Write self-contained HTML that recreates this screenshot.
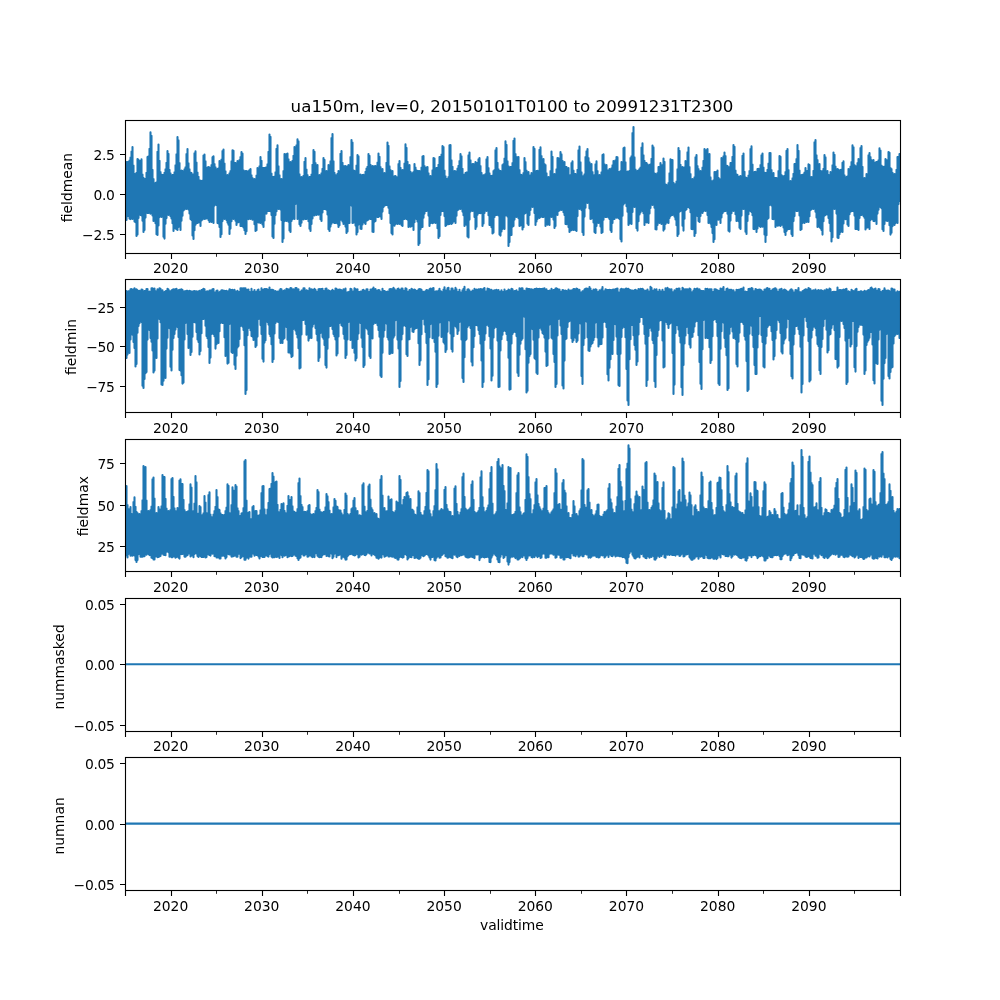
<!DOCTYPE html>
<html lang="en"><head><meta charset="utf-8"><title>ua150m, lev=0</title>
<style>html,body{margin:0;padding:0;background:#fff;overflow:hidden}svg{display:block;will-change:transform}text{font-family:"DejaVu Sans","Liberation Sans",sans-serif;fill:#000}</style></head>
<body>
<svg width="1000" height="1000" viewBox="0 0 1000 1000">
<rect width="1000" height="1000" fill="#fff"/>
<defs>
<clipPath id="c0"><rect x="125" y="120.00" width="775" height="132.76"/></clipPath>
<clipPath id="c1"><rect x="125" y="279.31" width="775" height="132.76"/></clipPath>
<clipPath id="c2"><rect x="125" y="438.62" width="775" height="132.76"/></clipPath>
<clipPath id="c3"><rect x="125" y="597.93" width="775" height="132.76"/></clipPath>
<clipPath id="c4"><rect x="125" y="757.24" width="775" height="132.76"/></clipPath>
</defs>
<g id="axes1">
<path clip-path="url(#c0)" d="M125.5 163.3V219.7M126.5 162.0V220.0M127.5 162.3V216.1M128.5 161.8V216.0M129.5 160.6V218.6M130.5 157.6V219.1M131.5 151.5V218.2M132.5 147.0V219.0M133.5 165.6V218.1M134.5 173.8V221.5M135.5 175.0V222.3M136.5 172.8V236.0M137.5 159.0V234.5M138.5 159.8V218.0M139.5 163.0V212.2M140.5 160.8V215.0M141.5 159.4V215.5M142.5 174.6V220.7M143.5 177.9V232.0M144.5 179.0V229.9M145.5 178.8V217.6M146.5 172.7V212.6M147.5 157.0V213.0M148.5 156.4V213.0M149.5 148.9V212.8M150.5 132.4V213.7M151.5 135.8V210.1M152.5 169.9V215.5M153.5 179.0V221.0M154.5 183.9V220.7M155.5 183.0V223.2M156.5 182.2V234.2M157.5 151.8V235.0M158.5 144.6V225.5M159.5 160.7V217.1M160.5 172.1V214.8M161.5 174.5V217.0M162.5 175.0V214.1M163.5 174.8V236.8M164.5 172.8V238.6M165.5 169.4V223.7M166.5 162.8V218.1M167.5 151.0V214.0M168.5 153.9V215.0M169.5 169.9V214.3M170.5 173.4V216.3M171.5 175.7V218.4M172.5 175.0V223.2M173.5 174.9V231.0M174.5 172.4V225.9M175.5 165.2V228.4M176.5 154.2V229.3M177.5 137.0V229.9M178.5 140.4V227.0M179.5 163.0V225.0M180.5 171.7V230.0M181.5 170.6V220.8M182.5 171.0V215.7M183.5 174.1V210.4M184.5 169.4V209.5M185.5 167.3V207.1M186.5 154.0V209.0M187.5 149.0V206.2M188.5 163.2V209.5M189.5 169.2V213.4M190.5 172.5V219.0M191.5 173.0V220.0M192.5 174.9V235.4M193.5 174.4V239.0M194.5 153.3V230.2M195.5 151.4V224.8M196.5 162.6V223.2M197.5 172.5V223.0M198.5 176.7V222.5M199.5 180.3V222.2M200.5 180.9V226.0M201.5 181.0V220.4M202.5 180.6V219.5M203.5 155.6V217.8M204.5 154.6V219.0M205.5 161.2V218.8M206.5 169.2V218.4M207.5 167.6V217.7M208.5 167.0V220.0M209.5 167.5V222.0M210.5 168.6V217.0M211.5 165.0V221.9M212.5 157.4V220.3M213.5 156.4V223.0M214.5 164.0V205.6M215.5 167.2V203.0M216.5 170.7V204.9M217.5 169.0V223.0M218.5 168.4V223.4M219.5 161.0V227.0M220.5 165.7V237.0M221.5 159.6V234.2M222.5 151.0V221.1M223.5 149.6V217.1M224.5 163.6V219.0M225.5 171.3V217.8M226.5 177.6V220.0M227.5 175.0V222.6M228.5 176.1V224.7M229.5 173.4V234.0M230.5 171.0V228.6M231.5 161.4V221.2M232.5 150.4V218.2M233.5 150.8V219.0M234.5 162.8V218.1M235.5 163.0V220.7M236.5 165.6V225.0M237.5 161.0V222.5M238.5 164.1V222.2M239.5 160.0V220.6M240.5 157.0V226.0M241.5 152.0V226.0M242.5 153.5V226.1M243.5 170.3V227.4M244.5 171.2V230.2M245.5 171.0V234.0M246.5 171.0V231.2M247.5 173.1V218.2M248.5 171.0V219.3M249.5 170.0V217.2M250.5 169.0V219.0M251.5 175.3V217.2M252.5 178.0V219.7M253.5 181.6V219.5M254.5 179.0V224.2M255.5 179.7V231.0M256.5 175.6V230.2M257.5 168.0V220.3M258.5 171.4V222.5M259.5 166.4V222.4M260.5 157.0V223.0M261.5 160.7V222.2M262.5 167.7V224.4M263.5 168.0V227.0M264.5 168.0V220.5M265.5 167.8V213.6M266.5 167.4V213.6M267.5 164.2V210.9M268.5 151.9V211.0M269.5 134.6V211.0M270.5 136.9V211.3M271.5 173.5V215.0M272.5 176.8V236.4M273.5 177.0V238.0M274.5 176.6V223.7M275.5 172.3V215.1M276.5 148.9V211.3M277.5 145.4V208.5M278.5 166.3V209.0M279.5 175.3V208.6M280.5 179.1V209.4M281.5 179.0V219.9M282.5 180.9V242.0M283.5 171.1V238.4M284.5 154.0V221.3M285.5 154.5V218.3M286.5 154.2V221.0M287.5 153.6V220.2M288.5 159.2V221.8M289.5 162.6V230.4M290.5 162.0V232.0M291.5 162.5V221.0M292.5 160.9V219.1M293.5 155.7V218.4M294.5 147.0V219.0M295.5 147.4V203.9M296.5 145.3V201.0M297.5 139.4V219.0M298.5 141.2V214.4M299.5 174.4V224.2M300.5 179.2V226.0M301.5 177.0V222.8M302.5 179.1V217.3M303.5 175.9V219.4M304.5 161.7V218.4M305.5 158.0V219.0M306.5 169.6V219.0M307.5 175.1V218.2M308.5 179.4V221.3M309.5 177.0V228.8M310.5 176.9V231.0M311.5 174.5V224.0M312.5 164.8V218.5M313.5 150.0V215.3M314.5 151.7V215.4M315.5 163.1V210.8M316.5 165.2V215.0M317.5 165.0V212.8M318.5 176.3V214.7M319.5 175.0V212.8M320.5 175.3V219.3M321.5 173.2V221.0M322.5 168.9V212.4M323.5 158.0V208.9M324.5 159.9V209.0M325.5 172.5V209.1M326.5 171.0V209.8M327.5 173.6V214.5M328.5 165.0V229.3M329.5 165.6V231.0M330.5 161.2V226.6M331.5 138.1V223.8M332.5 134.0V219.0M333.5 161.2V222.5M334.5 172.9V223.0M335.5 175.0V222.9M336.5 177.9V222.8M337.5 173.9V223.6M338.5 171.0V227.0M339.5 173.3V225.3M340.5 153.7V219.8M341.5 151.0V219.8M342.5 162.8V221.5M343.5 166.1V224.0M344.5 166.6V223.5M345.5 166.0V226.6M346.5 167.0V233.0M347.5 166.4V231.4M348.5 165.0V223.0M349.5 166.0V223.0M350.5 157.1V203.0M351.5 140.0V205.6M352.5 142.6V223.0M353.5 170.2V222.7M354.5 171.0V222.0M355.5 171.0V225.6M356.5 165.6V234.4M357.5 155.0V232.1M358.5 156.4V224.6M359.5 174.7V222.5M360.5 174.6V228.8M361.5 178.0V229.0M362.5 175.0V224.4M363.5 174.9V219.8M364.5 175.4V222.8M365.5 171.9V224.0M366.5 168.5V220.8M367.5 166.8V220.3M368.5 154.0V219.5M369.5 155.9V217.6M370.5 164.9V219.0M371.5 169.2V219.1M372.5 166.0V231.7M373.5 166.8V232.0M374.5 166.4V221.7M375.5 166.0V220.9M376.5 167.0V216.8M377.5 162.5V217.0M378.5 153.6V217.0M379.5 156.8V216.0M380.5 167.1V216.4M381.5 169.4V219.0M382.5 169.0V211.6M383.5 173.6V207.0M384.5 173.0V205.7M385.5 177.7V205.1M386.5 162.7V205.0M387.5 142.6V205.2M388.5 145.9V207.7M389.5 166.4V213.3M390.5 170.1V223.0M391.5 171.3V232.9M392.5 171.0V234.4M393.5 177.2V224.8M394.5 176.3V225.8M395.5 176.0V224.0M396.5 177.0V222.5M397.5 177.4V224.0M398.5 164.1V222.9M399.5 161.0V224.0M400.5 167.8V221.1M401.5 172.0V225.1M402.5 170.0V226.0M403.5 170.1V219.2M404.5 163.5V219.0M405.5 144.4V199.0M406.5 147.9V219.0M407.5 161.7V219.6M408.5 169.4V227.0M409.5 165.0V226.3M410.5 171.8V226.8M411.5 175.9V226.2M412.5 173.0V225.3M413.5 172.1V230.0M414.5 164.0V222.2M415.5 167.6V215.7M416.5 170.4V219.0M417.5 171.2V221.4M418.5 171.0V245.0M419.5 171.0V243.3M420.5 171.8V229.2M421.5 167.6V227.2M422.5 156.6V227.0M423.5 156.0V217.7M424.5 166.0V213.6M425.5 167.7V211.0M426.5 167.5V211.0M427.5 167.0V210.4M428.5 173.3V215.6M429.5 176.3V226.0M430.5 176.0V223.2M431.5 180.6V219.7M432.5 170.4V223.2M433.5 158.0V222.7M434.5 158.5V218.1M435.5 169.2V223.0M436.5 168.0V222.5M437.5 167.8V228.2M438.5 164.8V238.0M439.5 157.0V236.2M440.5 156.9V214.9M441.5 154.6V211.2M442.5 146.0V211.0M443.5 147.0V211.1M444.5 170.6V216.1M445.5 176.3V226.0M446.5 178.8V225.1M447.5 179.0V223.6M448.5 177.1V224.2M449.5 145.3V223.9M450.5 145.0V219.0M451.5 160.4V224.0M452.5 166.7V222.9M453.5 171.4V221.4M454.5 171.0V221.0M455.5 171.4V223.0M456.5 172.7V215.7M457.5 168.5V210.3M458.5 165.8V209.5M459.5 161.1V208.5M460.5 154.0V209.0M461.5 156.3V208.0M462.5 168.7V211.6M463.5 174.6V215.2M464.5 174.7V226.0M465.5 173.0V224.4M466.5 172.5V224.7M467.5 172.4V236.4M468.5 155.4V237.4M469.5 152.6V219.6M470.5 160.2V211.6M471.5 165.0V209.8M472.5 164.0V211.0M473.5 164.1V210.7M474.5 164.8V216.9M475.5 162.0V229.0M476.5 166.4V226.7M477.5 162.8V214.7M478.5 159.3V212.9M479.5 158.0V213.0M480.5 166.0V213.3M481.5 172.9V212.6M482.5 175.2V226.0M483.5 175.4V223.5M484.5 175.0V212.9M485.5 174.0V207.5M486.5 159.3V211.0M487.5 157.0V206.8M488.5 168.1V215.2M489.5 173.4V225.0M490.5 175.9V225.1M491.5 176.0V227.2M492.5 175.5V233.4M493.5 171.0V232.6M494.5 170.0V216.9M495.5 150.4V214.9M496.5 148.0V215.0M497.5 162.7V214.7M498.5 169.2V215.5M499.5 170.8V234.6M500.5 171.0V235.6M501.5 171.2V231.5M502.5 165.0V228.9M503.5 164.0V228.2M504.5 158.5V229.0M505.5 141.4V215.5M506.5 144.9V213.0M507.5 161.3V216.5M508.5 166.3V246.0M509.5 168.4V242.1M510.5 167.0V235.3M511.5 166.8V235.0M512.5 163.0V226.7M513.5 140.7V226.0M514.5 138.6V219.6M515.5 154.0V216.6M516.5 157.0V217.0M517.5 157.7V216.1M518.5 157.0V218.3M519.5 170.0V226.0M520.5 174.6V225.5M521.5 175.0V223.5M522.5 175.8V229.4M523.5 173.0V227.3M524.5 158.0V213.8M525.5 162.0V213.0M526.5 170.6V212.1M527.5 172.3V223.6M528.5 172.0V225.0M529.5 176.0V215.1M530.5 175.2V209.9M531.5 173.0V202.7M532.5 173.6V207.0M533.5 147.0V203.0M534.5 148.9V213.0M535.5 173.8V225.0M536.5 171.0V221.5M537.5 170.9V219.0M538.5 171.4V216.5M539.5 149.7V218.0M540.5 147.4V217.0M541.5 156.0V216.4M542.5 160.5V217.0M543.5 159.0V216.9M544.5 164.1V215.7M545.5 165.0V226.0M546.5 173.2V220.5M547.5 177.3V224.8M548.5 177.0V223.3M549.5 177.2V225.0M550.5 171.0V215.8M551.5 151.6V217.0M552.5 156.7V216.5M553.5 177.1V219.6M554.5 174.0V228.0M555.5 174.4V226.0M556.5 169.2V213.6M557.5 158.0V215.0M558.5 158.2V211.0M559.5 160.6V210.4M560.5 152.0V208.4M561.5 154.4V210.0M562.5 160.7V208.5M563.5 162.7V212.3M564.5 162.0V215.0M565.5 166.7V224.0M566.5 167.0V224.2M567.5 168.7V223.8M568.5 168.0V227.1M569.5 175.5V232.0M570.5 175.0V230.4M571.5 163.0V230.3M572.5 161.4V226.3M573.5 170.6V230.0M574.5 173.9V229.6M575.5 174.0V229.9M576.5 174.5V231.0M577.5 169.8V216.1M578.5 150.3V207.8M579.5 146.6V209.0M580.5 162.3V204.7M581.5 172.3V210.1M582.5 176.6V232.2M583.5 176.0V235.0M584.5 174.4V216.6M585.5 157.0V207.7M586.5 151.2V201.8M587.5 149.0V203.0M588.5 158.1V198.9M589.5 162.3V208.4M590.5 164.7V219.0M591.5 164.0V218.6M592.5 172.0V216.4M593.5 176.0V222.4M594.5 175.0V232.0M595.5 164.3V233.0M596.5 161.4V226.0M597.5 171.1V222.4M598.5 175.2V223.0M599.5 175.0V222.8M600.5 175.8V226.4M601.5 172.3V233.0M602.5 155.1V232.3M603.5 154.4V219.8M604.5 164.4V216.7M605.5 167.7V217.0M606.5 165.0V217.0M607.5 170.2V216.5M608.5 170.3V217.5M609.5 169.0V218.9M610.5 169.4V230.1M611.5 168.3V232.0M612.5 165.3V223.0M613.5 161.0V219.1M614.5 161.4V219.0M615.5 160.2V217.0M616.5 157.0V217.8M617.5 157.4V217.4M618.5 171.8V218.0M619.5 172.0V219.0M620.5 171.0V239.1M621.5 162.0V241.4M622.5 162.5V215.7M623.5 148.3V204.5M624.5 147.6V203.0M625.5 162.3V202.6M626.5 173.0V206.3M627.5 171.5V211.8M628.5 172.0V225.0M629.5 170.9V223.4M630.5 158.0V223.1M631.5 156.2V224.0M632.5 133.0V212.0M633.5 127.0V206.3M634.5 157.4V207.0M635.5 169.5V206.4M636.5 171.0V228.3M637.5 171.2V230.6M638.5 170.4V221.2M639.5 169.0V214.5M640.5 167.6V212.5M641.5 147.6V210.5M642.5 143.4V211.0M643.5 155.2V213.2M644.5 160.9V225.0M645.5 162.9V218.9M646.5 163.0V222.4M647.5 164.4V221.7M648.5 166.6V223.0M649.5 165.0V213.4M650.5 164.2V207.9M651.5 158.7V203.1M652.5 145.6V205.0M653.5 147.4V204.3M654.5 173.2V207.8M655.5 174.0V229.2M656.5 174.2V229.4M657.5 173.0V224.9M658.5 167.0V222.1M659.5 166.9V223.0M660.5 163.0V221.7M661.5 165.3V224.0M662.5 165.1V222.2M663.5 158.6V230.6M664.5 161.9V228.9M665.5 184.2V224.0M666.5 185.0V222.5M667.5 187.2V222.4M668.5 183.1V223.0M669.5 173.3V217.9M670.5 159.4V215.9M671.5 160.0V215.1M672.5 160.0V215.0M673.5 182.8V210.3M674.5 185.0V216.6M675.5 184.1V219.5M676.5 181.5V225.2M677.5 169.2V236.0M678.5 148.0V233.9M679.5 150.9V211.7M680.5 164.8V211.0M681.5 167.3V209.2M682.5 167.0V225.7M683.5 168.3V230.6M684.5 167.3V218.7M685.5 161.0V210.2M686.5 163.7V209.2M687.5 152.2V207.0M688.5 147.6V207.0M689.5 167.0V208.0M690.5 174.1V212.2M691.5 179.2V229.0M692.5 179.0V229.3M693.5 179.5V228.6M694.5 177.3V236.0M695.5 157.3V233.2M696.5 155.0V215.4M697.5 166.0V216.0M698.5 169.1V221.0M699.5 171.7V222.0M700.5 171.0V215.9M701.5 171.7V209.6M702.5 167.5V213.0M703.5 160.9V211.1M704.5 149.0V209.2M705.5 152.3V211.0M706.5 150.1V210.4M707.5 149.0V215.0M708.5 154.4V223.0M709.5 154.0V221.8M710.5 177.4V223.6M711.5 181.0V226.9M712.5 182.1V233.1M713.5 180.2V242.0M714.5 172.0V239.3M715.5 172.5V222.8M716.5 171.8V225.0M717.5 170.6V219.4M718.5 177.8V219.8M719.5 179.0V218.1M720.5 180.5V223.0M721.5 158.0V217.4M722.5 159.4V213.2M723.5 156.2V211.6M724.5 152.6V211.1M725.5 156.1V211.0M726.5 165.5V210.8M727.5 166.0V213.7M728.5 167.0V230.8M729.5 167.0V231.6M730.5 163.0V220.6M731.5 162.7V213.2M732.5 156.9V207.8M733.5 145.0V211.0M734.5 146.8V210.3M735.5 170.6V214.2M736.5 174.4V221.0M737.5 175.0V216.2M738.5 176.7V221.3M739.5 176.8V227.7M740.5 176.0V229.0M741.5 176.6V215.6M742.5 155.7V208.6M743.5 153.6V209.0M744.5 171.8V208.8M745.5 177.3V231.7M746.5 178.0V234.0M747.5 178.0V221.0M748.5 175.6V214.2M749.5 171.0V208.4M750.5 149.1V211.0M751.5 146.4V212.0M752.5 164.6V215.3M753.5 172.5V229.0M754.5 172.0V229.1M755.5 171.9V228.2M756.5 175.9V232.0M757.5 169.0V228.4M758.5 168.9V223.2M759.5 169.0V226.0M760.5 165.0V227.0M761.5 155.3V226.0M762.5 153.6V226.7M763.5 167.5V226.4M764.5 172.5V234.5M765.5 173.0V242.0M766.5 172.8V235.3M767.5 169.7V219.0M768.5 163.6V218.0M769.5 153.0V205.1M770.5 153.1V203.0M771.5 170.0V205.5M772.5 175.3V219.0M773.5 173.0V219.3M774.5 177.7V216.8M775.5 178.0V227.0M776.5 178.0V224.9M777.5 179.7V225.8M778.5 171.1V225.5M779.5 156.0V223.0M780.5 156.8V226.0M781.5 175.1V224.6M782.5 176.0V224.8M783.5 179.2V227.5M784.5 175.8V232.1M785.5 172.0V235.0M786.5 150.9V231.0M787.5 149.0V229.5M788.5 170.1V228.9M789.5 182.4V229.0M790.5 181.0V227.4M791.5 183.1V233.9M792.5 178.4V236.0M793.5 173.7V221.1M794.5 164.0V216.1M795.5 163.8V208.3M796.5 159.0V211.0M797.5 145.0V211.0M798.5 150.9V210.5M799.5 170.5V215.4M800.5 175.1V230.0M801.5 175.0V229.3M802.5 175.0V223.0M803.5 174.2V222.2M804.5 172.5V223.0M805.5 168.0V218.4M806.5 172.2V221.9M807.5 170.7V221.5M808.5 164.4V222.0M809.5 165.1V216.2M810.5 177.0V210.2M811.5 177.0V209.2M812.5 177.1V208.4M813.5 170.9V209.0M814.5 142.2V208.3M815.5 140.0V211.7M816.5 155.2V217.5M817.5 160.1V227.0M818.5 164.8V225.4M819.5 164.0V227.1M820.5 170.7V228.2M821.5 173.7V229.9M822.5 171.0V234.6M823.5 168.9V221.2M824.5 155.0V215.7M825.5 157.4V215.0M826.5 172.5V214.2M827.5 171.0V214.4M828.5 174.9V217.9M829.5 175.3V223.0M830.5 172.0V231.1M831.5 175.1V241.4M832.5 165.3V237.2M833.5 152.6V208.2M834.5 154.8V209.0M835.5 166.5V207.8M836.5 170.2V213.6M837.5 169.0V237.6M838.5 169.9V238.0M839.5 171.2V234.2M840.5 170.0V231.9M841.5 169.5V229.9M842.5 162.8V232.0M843.5 161.4V223.5M844.5 175.2V217.3M845.5 178.0V219.2M846.5 177.0V219.0M847.5 176.3V224.5M848.5 169.0V226.0M849.5 169.3V214.2M850.5 166.5V211.8M851.5 162.1V211.1M852.5 145.4V211.0M853.5 147.3V211.2M854.5 165.0V215.6M855.5 166.1V229.0M856.5 167.9V228.9M857.5 163.1V228.9M858.5 159.0V230.0M859.5 160.0V218.0M860.5 148.1V215.0M861.5 146.0V215.0M862.5 166.9V213.2M863.5 180.2V215.9M864.5 178.0V217.7M865.5 178.2V229.4M866.5 174.0V227.7M867.5 174.4V227.4M868.5 155.3V226.0M869.5 153.0V229.0M870.5 157.1V220.1M871.5 160.0V217.3M872.5 161.3V219.3M873.5 160.0V221.0M874.5 164.3V221.1M875.5 162.6V219.1M876.5 162.0V224.0M877.5 161.7V213.6M878.5 160.4V209.7M879.5 148.4V206.7M880.5 150.5V207.0M881.5 165.6V208.3M882.5 166.6V229.2M883.5 167.0V231.0M884.5 166.6V223.9M885.5 159.0V219.1M886.5 160.1V220.7M887.5 160.2V221.0M888.5 152.0V219.4M889.5 152.7V225.3M890.5 168.1V234.6M891.5 169.0V232.7M892.5 172.8V226.3M893.5 175.1V224.2M894.5 174.0V225.0M895.5 174.1V223.1M896.5 169.9V221.0M897.5 157.0V223.0M898.5 156.8V204.1M899.5 154.0V201.0" fill="none" stroke="#1f77b4" stroke-width="2.083" stroke-linecap="round"/>
<path d="M125.5 254V259M171.5 254V259M262.5 254V259M353.5 254V259M444.5 254V259M535.5 254V259M626.5 254V259M718.5 254V259M809.5 254V259M900.5 254V259M120 154.5H125M120 194.5H125M120 234.5H125" fill="none" stroke="#000" stroke-width="1.111"/>
<path d="M216.5 254V256.8M307.5 254V256.8M399.5 254V256.8M490.5 254V256.8M581.5 254V256.8M672.5 254V256.8M763.5 254V256.8M854.5 254V256.8" fill="none" stroke="#000" stroke-width="0.833"/>
<rect x="125.5" y="120.5" width="775" height="133" fill="none" stroke="#000" stroke-width="1.111"/>
<g font-size="13.889" text-anchor="middle">
<text x="170.59" y="273">2020</text>
<text x="261.76" y="273">2030</text>
<text x="352.94" y="273">2040</text>
<text x="444.12" y="273">2050</text>
<text x="535.29" y="273">2060</text>
<text x="626.47" y="273">2070</text>
<text x="717.65" y="273">2080</text>
<text x="808.82" y="273">2090</text>
</g>
<g font-size="13.889" text-anchor="end" letter-spacing="-0.3">
<text x="114.6" y="160.00">2.5</text>
<text x="114.6" y="200.00">0.0</text>
<text x="114.6" y="240.00">−2.5</text>
</g>
<text font-size="13.889" text-anchor="middle" transform="translate(72.11 187.58) rotate(-90)">fieldmean</text>
</g>
<g id="axes2">
<path clip-path="url(#c1)" d="M125.5 291.2V358.0M126.5 291.1V358.0M127.5 292.3V354.6M128.5 291.2V351.0M129.5 291.1V353.0M130.5 289.4V339.4M131.5 289.0V315.0M132.5 291.6V334.7M133.5 289.2V342.0M134.5 288.3V348.0M135.5 289.4V366.4M136.5 289.4V364.0M137.5 290.4V332.7M138.5 291.3V326.0M139.5 290.8V323.2M140.5 291.1V318.6M141.5 289.5V322.0M142.5 289.7V385.8M143.5 291.7V388.0M144.5 291.0V378.9M145.5 290.8V373.3M146.5 289.0V372.0M147.5 289.1V339.6M148.5 291.8V328.0M149.5 291.6V329.9M150.5 291.7V338.0M151.5 288.3V341.7M152.5 288.3V350.4M153.5 290.8V372.4M154.5 288.6V370.6M155.5 291.0V357.8M156.5 291.6V358.0M157.5 289.2V338.4M158.5 289.9V318.3M159.5 288.3V319.0M160.5 288.8V322.3M161.5 290.4V384.5M162.5 290.4V385.0M163.5 292.3V380.8M164.5 292.0V374.8M165.5 291.2V378.0M166.5 290.8V348.6M167.5 288.8V337.7M168.5 289.5V327.0M169.5 291.1V328.3M170.5 291.5V366.8M171.5 290.6V370.4M172.5 289.8V349.7M173.5 289.4V337.9M174.5 289.6V334.0M175.5 289.4V329.6M176.5 288.8V323.5M177.5 290.3V327.0M178.5 290.2V336.9M179.5 289.9V370.0M180.5 289.9V370.6M181.5 289.3V375.3M182.5 290.0V383.6M183.5 291.6V382.6M184.5 291.4V339.5M185.5 291.4V323.0M186.5 290.8V322.0M187.5 290.8V333.9M188.5 292.2V348.0M189.5 290.8V346.6M190.5 291.3V355.0M191.5 291.6V352.0M192.5 291.9V336.7M193.5 291.2V322.0M194.5 291.1V322.1M195.5 291.6V322.4M196.5 291.2V332.0M197.5 291.9V339.4M198.5 291.5V341.9M199.5 290.9V354.4M200.5 291.9V351.0M201.5 290.1V333.2M202.5 289.7V319.0M203.5 288.9V319.0M204.5 289.2V318.1M205.5 292.2V325.8M206.5 291.6V336.0M207.5 291.2V338.3M208.5 292.3V346.9M209.5 290.6V363.0M210.5 290.5V357.6M211.5 290.3V334.0M212.5 289.2V333.5M213.5 289.0V334.0M214.5 292.3V336.3M215.5 292.4V348.6M216.5 290.7V344.3M217.5 290.6V342.8M218.5 292.3V343.0M219.5 292.2V331.3M220.5 291.4V323.0M221.5 290.3V321.2M222.5 290.2V323.0M223.5 290.8V323.0M224.5 290.7V337.3M225.5 291.3V356.0M226.5 290.9V355.3M227.5 292.2V363.6M228.5 291.1V362.8M229.5 289.3V324.0M230.5 289.9V321.8M231.5 290.1V352.0M232.5 289.8V353.0M233.5 292.5V336.0M234.5 289.9V364.7M235.5 291.4V369.0M236.5 291.8V355.7M237.5 290.7V347.5M238.5 292.1V346.0M239.5 291.7V339.0M240.5 288.2V326.0M241.5 288.2V322.2M242.5 288.6V326.6M243.5 288.4V330.0M244.5 288.4V345.3M245.5 288.3V394.0M246.5 289.9V390.1M247.5 289.8V335.2M248.5 289.6V328.0M249.5 291.9V327.6M250.5 292.3V330.3M251.5 288.9V336.0M252.5 292.0V336.6M253.5 291.6V340.0M254.5 290.1V339.4M255.5 292.1V347.0M256.5 291.8V345.5M257.5 290.2V336.6M258.5 289.5V319.0M259.5 291.9V318.6M260.5 291.5V325.1M261.5 288.3V334.0M262.5 289.9V358.7M263.5 289.7V361.6M264.5 289.1V342.6M265.5 289.0V340.2M266.5 289.1V321.2M267.5 289.6V322.0M268.5 289.9V324.6M269.5 287.6V334.0M270.5 289.9V336.2M271.5 289.7V344.3M272.5 289.8V362.0M273.5 290.2V359.3M274.5 291.4V333.5M275.5 291.1V323.0M276.5 292.0V320.8M277.5 291.5V321.8M278.5 292.2V322.0M279.5 290.4V338.1M280.5 289.0V343.0M281.5 289.4V342.7M282.5 291.1V343.0M283.5 291.2V338.9M284.5 290.4V338.0M285.5 290.5V326.0M286.5 288.8V327.0M287.5 289.3V339.7M288.5 289.6V352.4M289.5 289.3V351.3M290.5 288.0V353.5M291.5 288.2V357.0M292.5 291.0V355.9M293.5 289.4V329.0M294.5 289.7V327.9M295.5 288.0V330.5M296.5 288.1V334.0M297.5 289.2V337.4M298.5 289.3V348.2M299.5 292.6V368.4M300.5 291.9V367.8M301.5 290.6V334.5M302.5 290.2V320.1M303.5 288.3V320.0M304.5 288.3V318.5M305.5 290.7V324.0M306.5 290.4V334.7M307.5 290.8V332.3M308.5 291.1V340.6M309.5 288.3V338.2M310.5 289.3V336.2M311.5 289.4V338.0M312.5 289.8V326.6M313.5 289.8V324.0M314.5 288.8V323.1M315.5 289.9V328.0M316.5 291.5V334.0M317.5 291.7V340.4M318.5 289.2V361.0M319.5 289.0V357.6M320.5 289.2V333.0M321.5 289.0V332.2M322.5 288.7V336.9M323.5 290.9V338.7M324.5 291.1V345.0M325.5 288.7V365.0M326.5 288.5V367.6M327.5 290.5V348.7M328.5 290.4V337.5M329.5 291.0V326.1M330.5 292.0V326.0M331.5 290.9V325.2M332.5 289.8V329.1M333.5 290.9V334.0M334.5 291.3V336.3M335.5 288.5V339.5M336.5 288.8V355.4M337.5 290.0V353.5M338.5 289.7V336.5M339.5 289.6V323.0M340.5 289.7V322.5M341.5 290.4V325.3M342.5 290.9V326.1M343.5 289.2V334.0M344.5 289.5V338.8M345.5 288.5V358.0M346.5 292.5V355.0M347.5 292.3V339.5M348.5 292.3V322.0M349.5 291.6V321.4M350.5 288.8V339.9M351.5 289.2V336.4M352.5 291.8V348.0M353.5 291.3V346.0M354.5 288.4V352.8M355.5 289.2V360.4M356.5 289.9V358.1M357.5 289.2V339.3M358.5 291.9V333.4M359.5 292.2V321.0M360.5 291.6V322.9M361.5 291.9V337.8M362.5 290.4V346.9M363.5 289.7V367.0M364.5 290.8V365.1M365.5 291.5V327.8M366.5 289.3V328.0M367.5 289.4V329.4M368.5 292.0V334.0M369.5 291.8V356.1M370.5 289.6V358.0M371.5 290.0V337.5M372.5 288.8V338.5M373.5 287.5V324.0M374.5 289.3V320.4M375.5 289.1V323.0M376.5 290.6V322.4M377.5 290.9V325.1M378.5 290.0V330.0M379.5 290.3V336.7M380.5 291.9V375.6M381.5 292.2V377.0M382.5 288.7V352.8M383.5 290.9V336.7M384.5 291.0V330.2M385.5 291.8V322.0M386.5 292.1V323.6M387.5 291.5V337.3M388.5 291.5V339.6M389.5 289.3V354.0M390.5 289.1V353.4M391.5 289.2V350.2M392.5 289.1V353.0M393.5 287.8V337.6M394.5 289.0V335.6M395.5 290.2V320.3M396.5 290.9V319.0M397.5 289.1V339.6M398.5 288.5V348.4M399.5 289.8V387.0M400.5 290.6V381.0M401.5 288.5V339.4M402.5 288.6V334.0M403.5 290.6V325.6M404.5 291.0V323.9M405.5 288.2V326.0M406.5 288.9V354.2M407.5 292.0V356.0M408.5 291.6V339.5M409.5 290.1V339.3M410.5 290.8V327.0M411.5 288.9V324.3M412.5 289.5V331.4M413.5 290.9V332.0M414.5 289.5V329.2M415.5 290.4V327.9M416.5 291.0V328.0M417.5 290.8V327.8M418.5 289.6V343.3M419.5 289.0V365.0M420.5 289.2V360.4M421.5 289.9V334.2M422.5 291.5V319.0M423.5 291.8V318.8M424.5 292.0V324.4M425.5 291.1V332.0M426.5 290.1V343.1M427.5 290.3V385.0M428.5 291.4V379.2M429.5 289.2V337.2M430.5 288.5V324.1M431.5 291.6V323.0M432.5 288.6V338.2M433.5 288.1V333.5M434.5 292.2V342.0M435.5 291.6V351.7M436.5 291.2V387.0M437.5 291.5V384.0M438.5 290.5V335.8M439.5 288.7V322.4M440.5 291.1V322.0M441.5 291.9V336.9M442.5 292.4V334.2M443.5 289.5V342.0M444.5 287.3V343.6M445.5 290.3V352.0M446.5 290.6V349.6M447.5 288.2V331.7M448.5 287.8V320.0M449.5 291.1V320.5M450.5 291.2V333.5M451.5 288.5V349.0M452.5 288.5V351.6M453.5 291.5V336.2M454.5 290.4V325.6M455.5 287.9V326.0M456.5 289.4V327.6M457.5 292.1V334.0M458.5 291.7V330.8M459.5 289.8V322.0M460.5 292.3V320.2M461.5 292.5V339.5M462.5 290.2V378.1M463.5 288.9V382.0M464.5 286.9V357.3M465.5 291.9V340.3M466.5 291.6V339.1M467.5 289.5V327.0M468.5 289.3V325.5M469.5 290.4V323.7M470.5 292.0V328.0M471.5 291.9V361.8M472.5 290.6V365.4M473.5 291.0V347.3M474.5 288.9V336.1M475.5 290.4V325.0M476.5 289.5V325.0M477.5 290.1V325.4M478.5 289.3V330.0M479.5 289.8V333.9M480.5 289.1V343.5M481.5 289.2V360.5M482.5 289.7V387.0M483.5 288.8V382.0M484.5 288.0V340.0M485.5 291.8V333.4M486.5 291.3V325.0M487.5 288.5V324.0M488.5 289.0V326.0M489.5 289.2V336.3M490.5 290.2V348.5M491.5 289.7V380.4M492.5 291.2V375.8M493.5 290.7V337.4M494.5 290.2V328.0M495.5 290.5V325.8M496.5 289.7V327.0M497.5 290.9V340.6M498.5 290.1V387.0M499.5 291.8V386.7M500.5 291.6V350.4M501.5 290.2V339.2M502.5 292.0V334.7M503.5 291.9V331.0M504.5 289.6V329.3M505.5 291.3V330.9M506.5 291.2V334.0M507.5 290.8V340.2M508.5 289.6V357.8M509.5 290.2V389.6M510.5 290.3V389.3M511.5 288.8V343.5M512.5 289.2V334.0M513.5 291.3V332.3M514.5 291.0V331.4M515.5 291.2V332.0M516.5 290.4V336.1M517.5 291.8V372.7M518.5 291.6V376.0M519.5 288.4V354.7M520.5 289.0V343.7M521.5 288.4V340.0M522.5 288.3V338.5M523.5 290.6V315.0M524.5 290.9V316.8M525.5 291.3V349.3M526.5 288.5V392.4M527.5 288.8V390.7M528.5 289.1V362.7M529.5 289.1V356.0M530.5 289.9V354.0M531.5 289.4V328.0M532.5 289.7V329.1M533.5 290.1V339.7M534.5 289.1V358.0M535.5 289.3V359.3M536.5 288.6V372.7M537.5 289.0V374.0M538.5 289.0V337.4M539.5 288.8V328.0M540.5 289.0V327.5M541.5 289.0V329.8M542.5 288.9V333.0M543.5 288.7V334.0M544.5 288.4V337.6M545.5 289.9V351.6M546.5 289.4V366.0M547.5 290.8V365.2M548.5 291.1V338.5M549.5 290.6V324.6M550.5 290.5V323.0M551.5 288.8V337.7M552.5 290.4V338.7M553.5 290.0V354.0M554.5 289.7V362.0M555.5 288.6V387.0M556.5 288.4V384.0M557.5 289.0V335.5M558.5 289.7V319.0M559.5 289.5V318.5M560.5 291.6V325.4M561.5 292.1V334.0M562.5 290.1V385.4M563.5 290.2V388.4M564.5 291.2V360.6M565.5 290.6V339.3M566.5 291.0V338.5M567.5 291.1V327.0M568.5 289.6V321.8M569.5 291.6V321.0M570.5 290.5V317.3M571.5 290.8V338.2M572.5 290.0V342.0M573.5 289.1V340.3M574.5 289.0V337.0M575.5 289.7V337.7M576.5 288.6V342.0M577.5 289.1V340.6M578.5 290.2V333.4M579.5 289.9V322.0M580.5 292.3V323.5M581.5 292.4V375.9M582.5 291.2V384.0M583.5 291.0V345.0M584.5 289.6V338.3M585.5 288.7V321.0M586.5 288.6V321.6M587.5 288.7V337.3M588.5 289.2V350.5M589.5 287.0V351.0M590.5 288.5V346.5M591.5 290.7V343.9M592.5 291.6V343.0M593.5 289.6V340.1M594.5 290.0V337.2M595.5 289.2V322.6M596.5 289.8V322.0M597.5 292.2V337.5M598.5 291.8V346.4M599.5 290.4V344.3M600.5 291.2V344.1M601.5 289.2V344.0M602.5 287.0V337.5M603.5 291.9V322.0M604.5 291.0V320.2M605.5 289.3V321.9M606.5 289.9V327.0M607.5 290.1V374.2M608.5 290.1V380.4M609.5 289.9V367.8M610.5 290.1V359.2M611.5 290.7V353.3M612.5 289.9V354.0M613.5 289.5V339.9M614.5 289.9V324.0M615.5 289.3V324.3M616.5 288.7V336.6M617.5 288.6V354.0M618.5 292.3V385.1M619.5 292.6V386.0M620.5 289.5V353.7M621.5 288.9V336.9M622.5 289.7V328.0M623.5 289.3V325.9M624.5 290.3V327.0M625.5 288.8V337.3M626.5 288.5V369.0M627.5 289.0V400.5M628.5 288.8V405.0M629.5 289.8V359.2M630.5 290.4V339.3M631.5 290.6V325.0M632.5 290.6V325.0M633.5 291.0V335.3M634.5 290.2V345.0M635.5 289.9V349.8M636.5 290.8V365.0M637.5 290.6V361.4M638.5 289.0V334.4M639.5 290.7V322.0M640.5 288.9V317.0M641.5 289.6V317.0M642.5 288.9V317.2M643.5 289.7V324.2M644.5 291.0V334.0M645.5 290.8V343.7M646.5 290.5V386.0M647.5 289.5V380.0M648.5 291.3V335.9M649.5 291.6V328.0M650.5 286.7V324.4M651.5 287.9V330.7M652.5 290.6V340.0M653.5 291.0V343.3M654.5 289.3V381.2M655.5 290.0V387.0M656.5 289.4V355.0M657.5 291.5V336.0M658.5 291.7V330.0M659.5 289.7V320.7M660.5 291.4V320.0M661.5 291.6V320.1M662.5 289.9V340.5M663.5 291.5V367.4M664.5 292.4V366.8M665.5 288.3V321.6M666.5 289.6V322.0M667.5 287.7V324.2M668.5 289.1V328.0M669.5 289.2V323.9M670.5 289.8V323.0M671.5 289.4V321.4M672.5 292.0V353.0M673.5 292.1V394.0M674.5 290.4V384.6M675.5 291.2V333.1M676.5 288.8V325.0M677.5 289.0V325.2M678.5 288.5V329.4M679.5 288.5V336.0M680.5 291.7V342.4M681.5 291.1V387.2M682.5 287.9V395.0M683.5 288.7V365.0M684.5 291.1V343.5M685.5 289.4V335.5M686.5 289.4V327.0M687.5 289.2V326.8M688.5 289.8V333.3M689.5 288.6V344.4M690.5 289.3V347.6M691.5 292.4V337.0M692.5 292.0V336.7M693.5 290.6V332.0M694.5 288.7V326.4M695.5 290.4V321.7M696.5 288.8V320.6M697.5 288.6V321.0M698.5 290.1V335.2M699.5 289.3V362.0M700.5 290.6V383.8M701.5 291.1V389.0M702.5 291.0V349.2M703.5 291.0V319.9M704.5 291.3V319.0M705.5 288.8V338.0M706.5 289.4V334.7M707.5 288.9V338.0M708.5 290.5V337.9M709.5 289.4V347.2M710.5 289.4V363.0M711.5 289.2V360.3M712.5 292.0V336.2M713.5 291.8V320.0M714.5 289.3V319.3M715.5 289.3V319.0M716.5 289.8V322.0M717.5 290.6V336.1M718.5 290.8V383.4M719.5 290.7V385.0M720.5 288.5V348.7M721.5 289.7V331.3M722.5 288.5V321.0M723.5 287.1V322.6M724.5 291.5V338.0M725.5 291.5V347.0M726.5 289.1V355.2M727.5 288.5V390.0M728.5 291.3V388.3M729.5 289.9V333.8M730.5 289.9V327.0M731.5 289.7V323.2M732.5 290.8V331.5M733.5 290.4V338.0M734.5 292.3V336.1M735.5 292.1V339.0M736.5 289.8V364.1M737.5 290.1V366.4M738.5 289.7V341.7M739.5 289.8V332.8M740.5 289.2V322.0M741.5 288.8V321.6M742.5 289.6V322.3M743.5 287.6V324.0M744.5 292.4V336.0M745.5 291.5V339.7M746.5 292.2V361.1M747.5 291.9V391.0M748.5 289.1V389.6M749.5 288.8V333.8M750.5 292.0V325.0M751.5 288.1V325.8M752.5 288.6V335.0M753.5 291.0V347.0M754.5 291.0V365.0M755.5 289.0V374.0M756.5 289.5V374.0M757.5 290.1V347.5M758.5 289.9V334.1M759.5 289.6V316.1M760.5 289.9V316.0M761.5 290.5V335.0M762.5 291.6V342.0M763.5 292.2V366.5M764.5 289.5V367.4M765.5 289.8V343.6M766.5 288.5V335.9M767.5 288.0V327.0M768.5 289.2V325.5M769.5 288.7V324.5M770.5 290.9V325.0M771.5 290.9V331.2M772.5 289.5V339.9M773.5 289.4V359.4M774.5 288.6V356.1M775.5 288.3V338.5M776.5 289.4V330.0M777.5 291.6V319.5M778.5 292.5V320.0M779.5 289.5V322.1M780.5 289.5V333.0M781.5 288.8V351.7M782.5 290.8V353.4M783.5 290.3V343.4M784.5 289.6V339.6M785.5 290.4V338.0M786.5 290.8V327.4M787.5 291.7V318.5M788.5 292.6V319.0M789.5 291.0V340.4M790.5 289.7V354.0M791.5 289.2V376.3M792.5 290.2V378.4M793.5 292.4V344.6M794.5 292.2V334.0M795.5 290.1V326.2M796.5 290.4V326.0M797.5 290.3V324.5M798.5 288.1V329.2M799.5 292.0V334.0M800.5 292.3V346.7M801.5 292.3V392.4M802.5 291.3V384.0M803.5 290.8V335.4M804.5 290.0V317.0M805.5 289.4V316.6M806.5 289.5V320.9M807.5 289.9V327.0M808.5 288.0V341.1M809.5 288.9V381.4M810.5 289.4V380.0M811.5 291.9V337.6M812.5 290.8V330.0M813.5 290.2V326.7M814.5 291.2V326.4M815.5 289.6V328.0M816.5 291.0V335.5M817.5 290.9V344.0M818.5 290.0V345.9M819.5 291.7V370.3M820.5 290.3V374.0M821.5 290.4V347.0M822.5 291.1V338.9M823.5 291.4V326.0M824.5 290.2V319.0M825.5 290.8V315.4M826.5 289.4V329.8M827.5 289.7V352.4M828.5 290.9V350.3M829.5 288.5V334.7M830.5 289.2V334.0M831.5 292.7V328.0M832.5 292.1V324.4M833.5 291.8V324.0M834.5 291.8V330.1M835.5 292.0V359.0M836.5 291.5V359.1M837.5 287.5V367.6M838.5 290.6V365.9M839.5 290.1V336.9M840.5 290.0V318.5M841.5 290.4V321.0M842.5 290.2V318.9M843.5 289.6V324.0M844.5 290.7V328.0M845.5 289.2V340.6M846.5 288.9V384.0M847.5 291.9V382.0M848.5 291.3V338.0M849.5 292.0V337.8M850.5 292.0V346.4M851.5 289.9V344.2M852.5 290.9V321.0M853.5 291.7V320.9M854.5 291.1V367.2M855.5 289.6V371.6M856.5 288.9V346.1M857.5 292.2V331.7M858.5 291.9V327.0M859.5 292.0V324.2M860.5 291.3V324.7M861.5 291.3V324.7M862.5 292.3V325.0M863.5 291.7V334.6M864.5 290.7V374.0M865.5 291.6V370.5M866.5 291.5V345.0M867.5 290.8V341.8M868.5 290.1V340.0M869.5 290.1V337.8M870.5 288.4V332.0M871.5 287.5V332.0M872.5 288.9V344.5M873.5 291.8V380.3M874.5 289.2V383.4M875.5 288.6V357.7M876.5 290.5V363.2M877.5 290.6V364.0M878.5 289.0V339.4M879.5 289.2V329.8M880.5 291.9V327.0M881.5 292.5V400.7M882.5 291.0V405.0M883.5 290.6V378.7M884.5 288.4V363.1M885.5 290.4V358.0M886.5 291.0V334.0M887.5 290.5V330.0M888.5 290.5V376.1M889.5 291.2V378.4M890.5 292.1V372.0M891.5 288.5V367.8M892.5 288.7V367.0M893.5 290.0V343.4M894.5 289.6V336.0M895.5 292.3V334.7M896.5 292.4V331.5M897.5 291.3V334.0M898.5 292.2V332.7M899.5 291.7V338.0" fill="none" stroke="#1f77b4" stroke-width="2.083" stroke-linecap="round"/>
<path d="M125.5 413V418M171.5 413V418M262.5 413V418M353.5 413V418M444.5 413V418M535.5 413V418M626.5 413V418M718.5 413V418M809.5 413V418M900.5 413V418M120 307.5H125M120 346.5H125M120 386.5H125" fill="none" stroke="#000" stroke-width="1.111"/>
<path d="M216.5 413V415.8M307.5 413V415.8M399.5 413V415.8M490.5 413V415.8M581.5 413V415.8M672.5 413V415.8M763.5 413V415.8M854.5 413V415.8" fill="none" stroke="#000" stroke-width="0.833"/>
<rect x="125.5" y="279.5" width="775" height="133" fill="none" stroke="#000" stroke-width="1.111"/>
<g font-size="13.889" text-anchor="middle">
<text x="170.59" y="433">2020</text>
<text x="261.76" y="433">2030</text>
<text x="352.94" y="433">2040</text>
<text x="444.12" y="433">2050</text>
<text x="535.29" y="433">2060</text>
<text x="626.47" y="433">2070</text>
<text x="717.65" y="433">2080</text>
<text x="808.82" y="433">2090</text>
</g>
<g font-size="13.889" text-anchor="end" letter-spacing="-0.3">
<text x="114.6" y="313.00">−25</text>
<text x="114.6" y="352.00">−50</text>
<text x="114.6" y="392.00">−75</text>
</g>
<text font-size="13.889" text-anchor="middle" transform="translate(76.33 346.99) rotate(-90)">fieldmin</text>
</g>
<g id="axes3">
<path clip-path="url(#c2)" d="M125.5 486.7V555.7M126.5 486.0V555.0M127.5 505.0V557.4M128.5 509.0V553.9M129.5 511.7V553.4M130.5 507.0V555.7M131.5 513.9V555.4M132.5 515.0V555.8M133.5 502.0V554.1M134.5 497.4V555.4M135.5 506.7V560.0M136.5 511.9V562.0M137.5 513.0V560.0M138.5 515.9V554.3M139.5 514.0V553.7M140.5 514.8V556.7M141.5 511.0V556.8M142.5 500.3V556.7M143.5 466.0V556.1M144.5 471.7V556.3M145.5 467.0V554.5M146.5 500.6V554.8M147.5 511.0V553.5M148.5 511.0V554.1M149.5 511.7V555.1M150.5 510.0V555.0M151.5 506.5V557.7M152.5 479.4V558.0M153.5 477.6V559.4M154.5 498.6V559.4M155.5 515.2V556.4M156.5 513.0V555.7M157.5 514.3V557.2M158.5 507.0V556.9M159.5 509.4V556.5M160.5 514.0V555.9M161.5 506.2V553.7M162.5 475.0V553.5M163.5 476.9V554.8M164.5 477.0V554.9M165.5 498.9V555.3M166.5 508.5V551.8M167.5 511.0V551.2M168.5 511.1V552.3M169.5 512.0V556.8M170.5 510.0V554.7M171.5 479.0V557.2M172.5 478.0V557.3M173.5 496.9V556.3M174.5 508.3V556.4M175.5 511.0V557.7M176.5 511.3V556.9M177.5 508.0V554.1M178.5 513.0V557.6M179.5 480.6V558.6M180.5 479.4V553.9M181.5 483.8V554.1M182.5 484.0V553.9M183.5 499.9V553.8M184.5 510.1V556.6M185.5 512.0V556.8M186.5 512.2V555.6M187.5 511.7V555.2M188.5 511.0V553.5M189.5 504.4V553.5M190.5 484.4V556.4M191.5 487.6V555.6M192.5 512.4V555.4M193.5 511.0V557.3M194.5 503.6V553.9M195.5 476.0V551.0M196.5 482.4V553.4M197.5 514.0V556.1M198.5 513.5V556.9M199.5 506.0V555.5M200.5 507.0V555.9M201.5 516.6V556.9M202.5 515.0V557.0M203.5 513.4V557.0M204.5 496.0V554.5M205.5 502.5V557.4M206.5 513.0V557.1M207.5 515.5V554.3M208.5 495.0V554.4M209.5 492.4V554.9M210.5 514.6V555.6M211.5 517.0V553.4M212.5 517.2V553.7M213.5 514.5V553.5M214.5 511.0V556.2M215.5 506.8V556.0M216.5 490.0V557.5M217.5 497.0V557.4M218.5 509.3V555.6M219.5 510.0V558.4M220.5 513.3V558.4M221.5 514.8V555.8M222.5 515.0V555.7M223.5 518.1V554.5M224.5 514.8V556.2M225.5 511.0V558.5M226.5 507.5V557.1M227.5 484.4V553.6M228.5 485.8V554.1M229.5 513.0V554.4M230.5 514.6V554.5M231.5 505.0V556.6M232.5 487.4V556.5M233.5 490.5V556.1M234.5 497.0V555.7M235.5 485.0V555.3M236.5 486.5V556.8M237.5 508.2V556.8M238.5 511.0V553.7M239.5 516.7V553.7M240.5 515.7V558.1M241.5 513.5V557.3M242.5 513.0V554.5M243.5 508.1V556.3M244.5 461.4V559.7M245.5 460.0V559.7M246.5 500.5V557.8M247.5 513.0V557.1M248.5 512.9V558.6M249.5 512.0V556.6M250.5 519.1V556.6M251.5 519.0V556.8M252.5 507.1V553.4M253.5 506.0V553.7M254.5 513.3V555.8M255.5 511.1V554.8M256.5 511.0V555.0M257.5 515.6V555.0M258.5 516.3V556.5M259.5 515.0V558.5M260.5 510.3V556.3M261.5 493.0V555.6M262.5 486.4V557.0M263.5 486.0V557.0M264.5 509.2V557.0M265.5 515.0V555.5M266.5 518.3V555.0M267.5 509.6V556.3M268.5 502.9V556.6M269.5 489.0V554.1M270.5 488.6V553.3M271.5 483.8V556.6M272.5 473.0V557.5M273.5 476.6V557.1M274.5 495.0V557.2M275.5 482.4V556.5M276.5 481.6V557.0M277.5 504.7V556.7M278.5 512.0V556.2M279.5 514.6V557.9M280.5 509.8V554.3M281.5 504.0V555.0M282.5 504.5V557.2M283.5 503.4V553.5M284.5 510.9V555.7M285.5 513.0V555.3M286.5 513.9V553.8M287.5 505.8V557.2M288.5 496.0V556.5M289.5 500.0V556.2M290.5 499.8V555.2M291.5 497.0V556.1M292.5 506.4V556.0M293.5 511.3V554.7M294.5 512.0V553.8M295.5 513.7V555.8M296.5 512.5V555.9M297.5 509.0V558.3M298.5 483.1V560.0M299.5 478.6V558.3M300.5 496.0V557.4M301.5 504.7V554.1M302.5 507.0V553.7M303.5 512.1V555.4M304.5 511.8V555.4M305.5 512.0V554.1M306.5 512.3V554.2M307.5 511.1V556.7M308.5 505.9V556.4M309.5 505.0V555.2M310.5 514.0V555.2M311.5 515.0V556.4M312.5 514.8V557.1M313.5 514.1V556.8M314.5 517.8V557.1M315.5 511.0V553.2M316.5 507.9V553.3M317.5 490.0V555.8M318.5 492.0V556.7M319.5 509.6V557.3M320.5 512.0V556.9M321.5 512.5V557.1M322.5 514.8V555.1M323.5 512.0V554.1M324.5 511.5V554.3M325.5 507.2V553.4M326.5 494.0V556.0M327.5 496.2V555.1M328.5 502.0V556.3M329.5 510.6V556.4M330.5 516.7V553.3M331.5 514.0V553.6M332.5 514.1V558.3M333.5 507.4V556.7M334.5 499.0V553.8M335.5 500.7V553.0M336.5 506.4V557.1M337.5 507.0V554.9M338.5 510.0V555.2M339.5 510.9V554.7M340.5 510.6V554.5M341.5 513.4V558.7M342.5 515.5V556.6M343.5 515.0V556.7M344.5 509.7V557.6M345.5 493.6V559.6M346.5 495.5V559.4M347.5 513.7V556.2M348.5 515.0V554.9M349.5 519.4V554.1M350.5 513.9V554.1M351.5 509.0V553.7M352.5 508.0V554.5M353.5 500.5V554.9M354.5 498.0V555.5M355.5 508.1V555.1M356.5 512.8V553.8M357.5 511.0V554.1M358.5 517.2V557.4M359.5 515.2V556.8M360.5 515.8V554.2M361.5 516.0V554.7M362.5 485.0V554.1M363.5 483.4V553.8M364.5 506.6V555.0M365.5 512.0V555.3M366.5 512.3V554.1M367.5 510.7V552.5M368.5 486.2V552.6M369.5 484.6V553.5M370.5 499.5V553.5M371.5 508.0V555.5M372.5 510.0V553.0M373.5 514.0V553.9M374.5 513.1V554.7M375.5 517.2V555.5M376.5 514.0V557.8M377.5 518.4V557.6M378.5 519.0V558.7M379.5 519.2V557.6M380.5 479.6V557.3M381.5 476.0V557.6M382.5 495.6V554.0M383.5 509.4V554.4M384.5 508.0V556.8M385.5 511.2V556.1M386.5 511.7V555.6M387.5 511.0V554.9M388.5 496.6V556.4M389.5 500.5V556.4M390.5 500.1V555.8M391.5 499.4V556.4M392.5 511.9V556.8M393.5 512.7V554.9M394.5 513.0V557.5M395.5 511.1V558.0M396.5 501.6V557.8M397.5 502.6V559.5M398.5 503.1V559.6M399.5 476.0V557.3M400.5 479.9V556.5M401.5 505.0V556.9M402.5 512.0V557.6M403.5 499.8V557.2M404.5 497.0V554.2M405.5 501.0V553.9M406.5 493.1V555.0M407.5 492.4V559.5M408.5 496.1V557.9M409.5 501.7V556.1M410.5 499.0V557.0M411.5 509.6V557.2M412.5 509.8V555.0M413.5 511.0V555.3M414.5 514.2V558.0M415.5 515.0V557.7M416.5 516.4V555.7M417.5 507.3V557.9M418.5 491.4V558.7M419.5 493.0V558.8M420.5 512.7V557.8M421.5 515.0V554.9M422.5 517.8V555.5M423.5 515.3V556.3M424.5 511.0V555.4M425.5 506.9V554.5M426.5 492.9V553.9M427.5 470.0V554.2M428.5 471.2V555.4M429.5 510.4V557.5M430.5 514.0V559.6M431.5 519.0V556.9M432.5 517.1V556.9M433.5 511.0V556.3M434.5 506.0V560.1M435.5 490.1V560.5M436.5 464.0V557.8M437.5 469.4V556.4M438.5 511.0V554.4M439.5 512.0V557.8M440.5 510.4V557.4M441.5 509.0V555.3M442.5 510.0V554.6M443.5 510.0V553.4M444.5 489.7V553.0M445.5 487.0V556.3M446.5 504.7V556.5M447.5 509.0V557.7M448.5 511.2V557.4M449.5 512.0V556.7M450.5 512.0V557.1M451.5 518.3V557.7M452.5 516.0V558.2M453.5 517.8V553.7M454.5 488.5V554.8M455.5 486.4V554.5M456.5 503.7V556.5M457.5 511.9V557.3M458.5 515.0V555.5M459.5 516.2V555.9M460.5 512.6V554.6M461.5 509.0V555.3M462.5 477.1V554.8M463.5 473.6V554.5M464.5 496.9V554.4M465.5 508.5V556.6M466.5 510.0V557.1M467.5 511.1V557.4M468.5 510.1V557.4M469.5 509.0V557.1M470.5 507.6V556.6M471.5 484.6V556.6M472.5 481.4V556.9M473.5 499.8V557.4M474.5 511.8V558.1M475.5 513.0V554.3M476.5 517.8V554.5M477.5 512.5V554.4M478.5 511.0V554.3M479.5 507.8V560.1M480.5 477.2V557.6M481.5 471.4V557.2M482.5 497.1V555.9M483.5 507.5V556.9M484.5 512.0V557.5M485.5 513.1V556.9M486.5 510.7V556.9M487.5 508.0V556.3M488.5 505.2V557.3M489.5 489.0V562.0M490.5 472.9V562.1M491.5 467.0V557.6M492.5 503.5V555.4M493.5 515.0V553.4M494.5 518.3V553.8M495.5 514.1V554.9M496.5 512.0V555.9M497.5 461.7V559.4M498.5 459.0V561.9M499.5 466.4V562.2M500.5 468.0V556.8M501.5 469.9V554.0M502.5 465.0V554.4M503.5 485.9V557.9M504.5 491.0V557.0M505.5 509.8V554.6M506.5 515.0V555.3M507.5 503.2V561.5M508.5 467.0V564.6M509.5 468.4V562.1M510.5 468.0V557.5M511.5 515.0V556.3M512.5 515.2V556.7M513.5 514.9V555.1M514.5 514.0V556.7M515.5 511.7V558.1M516.5 493.0V556.6M517.5 475.2V559.4M518.5 473.0V559.4M519.5 507.2V558.4M520.5 512.0V557.6M521.5 516.6V556.5M522.5 515.3V557.1M523.5 513.9V555.2M524.5 513.0V555.5M525.5 499.9V558.1M526.5 454.4V560.0M527.5 456.8V558.0M528.5 477.0V555.4M529.5 494.0V555.5M530.5 499.0V554.9M531.5 514.0V556.9M532.5 514.0V557.4M533.5 510.0V556.8M534.5 505.0V557.1M535.5 482.4V555.3M536.5 479.0V555.7M537.5 495.2V557.1M538.5 503.9V556.3M539.5 507.0V555.6M540.5 509.4V557.9M541.5 511.4V557.4M542.5 511.0V553.7M543.5 508.5V553.5M544.5 488.0V553.6M545.5 487.7V557.8M546.5 486.0V557.7M547.5 510.8V556.6M548.5 513.0V557.2M549.5 515.4V553.8M550.5 514.2V553.5M551.5 512.2V553.4M552.5 511.0V553.6M553.5 509.2V554.8M554.5 493.0V554.5M555.5 469.0V557.7M556.5 473.2V557.2M557.5 511.0V554.5M558.5 504.9V554.6M559.5 504.0V554.7M560.5 509.5V557.7M561.5 510.0V557.6M562.5 483.1V556.2M563.5 480.0V559.4M564.5 490.6V559.4M565.5 493.0V556.7M566.5 506.3V557.3M567.5 515.3V556.9M568.5 513.0V556.9M569.5 517.7V557.7M570.5 518.6V558.2M571.5 518.0V553.2M572.5 514.9V553.3M573.5 501.0V555.5M574.5 506.4V555.2M575.5 514.9V556.3M576.5 514.0V554.5M577.5 516.0V554.4M578.5 516.7V556.6M579.5 511.0V556.4M580.5 509.1V554.9M581.5 490.2V554.5M582.5 459.0V556.2M583.5 460.4V556.3M584.5 504.9V554.1M585.5 509.0V553.8M586.5 507.5V554.4M587.5 490.4V554.4M588.5 489.0V557.6M589.5 502.6V557.1M590.5 511.3V557.6M591.5 510.0V556.8M592.5 514.8V555.4M593.5 516.0V555.6M594.5 516.1V555.4M595.5 514.3V555.6M596.5 511.0V557.0M597.5 504.9V556.6M598.5 504.6V557.5M599.5 515.9V557.2M600.5 517.0V555.4M601.5 516.8V553.8M602.5 517.2V555.5M603.5 514.6V554.9M604.5 512.0V557.5M605.5 515.1V556.6M606.5 511.3V554.9M607.5 510.0V554.7M608.5 488.3V557.0M609.5 484.0V553.9M610.5 499.3V554.8M611.5 503.0V555.9M612.5 509.3V556.3M613.5 513.2V554.8M614.5 513.0V554.7M615.5 514.1V556.4M616.5 506.6V555.6M617.5 497.0V555.7M618.5 468.7V555.6M619.5 465.0V556.2M620.5 481.8V556.2M621.5 487.0V556.2M622.5 501.4V557.1M623.5 512.6V556.9M624.5 511.0V557.0M625.5 500.9V558.4M626.5 469.0V562.8M627.5 463.6V563.2M628.5 445.4V557.1M629.5 448.6V553.2M630.5 499.0V551.5M631.5 509.5V551.4M632.5 512.0V554.8M633.5 515.0V556.4M634.5 504.0V558.3M635.5 496.3V558.5M636.5 491.6V557.3M637.5 495.4V556.8M638.5 497.6V554.3M639.5 497.0V557.4M640.5 516.0V553.4M641.5 510.0V554.1M642.5 486.6V553.3M643.5 489.8V556.4M644.5 509.0V556.7M645.5 463.1V557.9M646.5 462.0V558.2M647.5 502.6V555.8M648.5 510.0V556.5M649.5 510.1V557.8M650.5 512.1V556.8M651.5 507.9V556.9M652.5 506.0V554.2M653.5 500.2V556.1M654.5 473.6V559.5M655.5 475.6V559.6M656.5 482.4V558.0M657.5 482.0V555.8M658.5 503.4V555.6M659.5 510.0V556.9M660.5 512.7V555.1M661.5 511.0V556.0M662.5 487.9V554.1M663.5 482.4V553.5M664.5 510.8V557.2M665.5 520.0V557.8M666.5 521.5V554.3M667.5 518.2V554.8M668.5 513.4V554.2M669.5 514.3V554.9M670.5 519.2V553.9M671.5 519.0V554.6M672.5 507.3V554.9M673.5 467.0V554.9M674.5 468.1V554.9M675.5 509.0V555.6M676.5 511.2V553.8M677.5 504.3V554.5M678.5 491.5V554.1M679.5 490.0V555.9M680.5 502.2V555.6M681.5 504.0V554.0M682.5 458.6V553.5M683.5 461.7V556.5M684.5 495.5V556.2M685.5 500.0V554.4M686.5 508.0V554.4M687.5 507.0V554.1M688.5 503.4V553.7M689.5 492.6V556.9M690.5 495.4V558.4M691.5 505.0V559.7M692.5 516.0V559.7M693.5 519.0V558.6M694.5 507.0V558.4M695.5 505.4V556.8M696.5 509.7V556.5M697.5 515.2V555.2M698.5 512.0V558.7M699.5 513.1V554.9M700.5 495.3V556.7M701.5 472.6V555.7M702.5 476.8V556.5M703.5 507.4V558.0M704.5 509.0V557.9M705.5 509.0V554.3M706.5 509.0V555.0M707.5 510.9V557.7M708.5 501.0V558.2M709.5 482.8V558.2M710.5 481.6V558.2M711.5 502.9V557.3M712.5 510.0V557.5M713.5 517.7V558.7M714.5 515.3V558.7M715.5 515.0V557.5M716.5 507.9V559.1M717.5 483.0V557.9M718.5 482.4V555.3M719.5 477.6V555.4M720.5 478.1V557.5M721.5 490.0V553.2M722.5 506.7V553.9M723.5 511.0V554.5M724.5 512.3V554.1M725.5 512.5V555.9M726.5 505.0V556.0M727.5 466.0V556.3M728.5 472.1V556.3M729.5 494.0V554.2M730.5 502.2V554.8M731.5 507.5V557.6M732.5 507.0V556.2M733.5 510.3V553.9M734.5 507.8V554.6M735.5 476.1V553.5M736.5 473.6V554.8M737.5 503.7V555.3M738.5 511.0V556.7M739.5 512.1V557.6M740.5 512.6V557.9M741.5 514.5V558.2M742.5 513.0V557.3M743.5 514.8V557.4M744.5 515.0V556.8M745.5 510.2V560.3M746.5 463.4V560.6M747.5 458.4V558.3M748.5 501.3V554.1M749.5 511.0V555.4M750.5 493.4V555.0M751.5 496.7V557.1M752.5 509.0V554.7M753.5 507.2V555.2M754.5 482.0V554.5M755.5 482.2V554.9M756.5 490.4V555.8M757.5 491.0V558.1M758.5 507.0V557.0M759.5 515.9V555.9M760.5 518.0V556.1M761.5 516.3V553.2M762.5 507.7V555.7M763.5 491.0V556.6M764.5 482.4V560.4M765.5 484.3V560.5M766.5 517.5V558.5M767.5 517.0V558.2M768.5 516.2V555.3M769.5 511.0V555.8M770.5 512.5V556.9M771.5 515.0V557.1M772.5 515.0V557.2M773.5 516.6V555.2M774.5 509.0V555.3M775.5 511.2V554.9M776.5 516.4V555.2M777.5 515.0V555.0M778.5 518.5V553.7M779.5 520.4V556.1M780.5 519.0V559.3M781.5 493.7V559.2M782.5 493.0V556.0M783.5 507.5V554.5M784.5 513.9V553.8M785.5 515.0V553.5M786.5 516.5V553.5M787.5 514.2V555.3M788.5 510.0V554.8M789.5 503.3V554.1M790.5 483.0V560.2M791.5 478.7V557.9M792.5 462.6V555.6M793.5 465.5V554.9M794.5 511.0V553.1M795.5 511.4V552.9M796.5 510.6V552.5M797.5 505.4V552.6M798.5 516.1V554.9M799.5 517.0V558.0M800.5 505.1V558.3M801.5 450.0V554.1M802.5 456.9V554.5M803.5 507.8V554.7M804.5 515.0V554.7M805.5 518.5V556.5M806.5 521.8V556.9M807.5 517.0V556.6M808.5 461.7V556.0M809.5 456.6V556.6M810.5 472.6V558.0M811.5 483.0V558.1M812.5 485.0V558.4M813.5 507.3V553.6M814.5 514.0V553.8M815.5 506.9V555.7M816.5 503.4V555.6M817.5 510.1V557.8M818.5 511.0V557.5M819.5 481.9V553.6M820.5 478.0V553.7M821.5 507.8V555.2M822.5 516.0V554.8M823.5 516.1V557.2M824.5 513.1V557.9M825.5 509.4V553.3M826.5 510.0V556.7M827.5 512.8V558.1M828.5 513.0V557.5M829.5 513.6V555.9M830.5 515.7V555.3M831.5 510.0V554.0M832.5 511.2V553.2M833.5 509.0V554.1M834.5 505.6V553.5M835.5 488.0V554.8M836.5 482.7V553.6M837.5 479.0V553.7M838.5 498.8V557.0M839.5 512.7V556.7M840.5 514.0V554.8M841.5 517.8V554.8M842.5 518.0V554.7M843.5 517.0V556.8M844.5 509.8V557.2M845.5 469.9V556.3M846.5 467.6V556.5M847.5 497.8V556.7M848.5 514.2V556.5M849.5 513.0V554.2M850.5 506.2V554.8M851.5 484.4V555.1M852.5 487.7V556.2M853.5 511.0V555.2M854.5 502.7V557.5M855.5 470.6V556.6M856.5 472.9V554.7M857.5 511.0V554.7M858.5 511.8V557.9M859.5 509.4V554.3M860.5 519.7V556.9M861.5 520.6V557.0M862.5 519.0V557.6M863.5 507.1V558.9M864.5 468.6V558.6M865.5 469.7V556.7M866.5 509.9V557.4M867.5 512.0V556.4M868.5 511.0V555.6M869.5 499.4V556.4M870.5 498.6V554.8M871.5 504.3V554.5M872.5 505.0V558.1M873.5 470.0V558.8M874.5 471.7V558.4M875.5 502.1V555.1M876.5 506.0V558.0M877.5 506.2V558.5M878.5 505.0V556.2M879.5 504.3V556.6M880.5 493.0V554.7M881.5 454.1V556.8M882.5 452.0V554.5M883.5 473.5V554.4M884.5 479.0V557.3M885.5 504.9V557.2M886.5 511.0V554.5M887.5 504.0V557.5M888.5 502.0V555.8M889.5 484.4V556.5M890.5 490.8V559.0M891.5 500.6V560.0M892.5 497.0V558.3M893.5 510.7V556.7M894.5 513.0V556.1M895.5 513.9V556.7M896.5 511.5V556.2M897.5 509.0V556.7M898.5 510.2V556.3M899.5 509.0V558.2" fill="none" stroke="#1f77b4" stroke-width="2.083" stroke-linecap="round"/>
<path d="M125.5 572V577M171.5 572V577M262.5 572V577M353.5 572V577M444.5 572V577M535.5 572V577M626.5 572V577M718.5 572V577M809.5 572V577M900.5 572V577M120 463.5H125M120 505.5H125M120 546.5H125" fill="none" stroke="#000" stroke-width="1.111"/>
<path d="M216.5 572V574.8M307.5 572V574.8M399.5 572V574.8M490.5 572V574.8M581.5 572V574.8M672.5 572V574.8M763.5 572V574.8M854.5 572V574.8" fill="none" stroke="#000" stroke-width="0.833"/>
<rect x="125.5" y="439.5" width="775" height="132" fill="none" stroke="#000" stroke-width="1.111"/>
<g font-size="13.889" text-anchor="middle">
<text x="170.59" y="592">2020</text>
<text x="261.76" y="592">2030</text>
<text x="352.94" y="592">2040</text>
<text x="444.12" y="592">2050</text>
<text x="535.29" y="592">2060</text>
<text x="626.47" y="592">2070</text>
<text x="717.65" y="592">2080</text>
<text x="808.82" y="592">2090</text>
</g>
<g font-size="13.889" text-anchor="end" letter-spacing="-0.3">
<text x="114.6" y="469.00">75</text>
<text x="114.6" y="511.00">50</text>
<text x="114.6" y="552.00">25</text>
</g>
<text font-size="13.889" text-anchor="middle" transform="translate(88.17 506.20) rotate(-90)">fieldmax</text>
</g>
<g id="axes4">
<path clip-path="url(#c3)" d="M123 664.31H902" fill="none" stroke="#1f77b4" stroke-width="2.083"/>
<path d="M125.5 732V737M171.5 732V737M262.5 732V737M353.5 732V737M444.5 732V737M535.5 732V737M626.5 732V737M718.5 732V737M809.5 732V737M900.5 732V737M120 604.5H125M120 664.5H125M120 725.5H125" fill="none" stroke="#000" stroke-width="1.111"/>
<path d="M216.5 732V734.8M307.5 732V734.8M399.5 732V734.8M490.5 732V734.8M581.5 732V734.8M672.5 732V734.8M763.5 732V734.8M854.5 732V734.8" fill="none" stroke="#000" stroke-width="0.833"/>
<rect x="125.5" y="598.5" width="775" height="133" fill="none" stroke="#000" stroke-width="1.111"/>
<g font-size="13.889" text-anchor="middle">
<text x="170.59" y="751">2020</text>
<text x="261.76" y="751">2030</text>
<text x="352.94" y="751">2040</text>
<text x="444.12" y="751">2050</text>
<text x="535.29" y="751">2060</text>
<text x="626.47" y="751">2070</text>
<text x="717.65" y="751">2080</text>
<text x="808.82" y="751">2090</text>
</g>
<g font-size="13.889" text-anchor="end" letter-spacing="-0.3">
<text x="114.6" y="610.00">0.05</text>
<text x="114.6" y="670.00">0.00</text>
<text x="114.6" y="731.00">−0.05</text>
</g>
<text font-size="13.889" text-anchor="middle" transform="translate(64.26 666.91) rotate(-90)">nummasked</text>
</g>
<g id="axes5">
<path clip-path="url(#c4)" d="M123 823.62H902" fill="none" stroke="#1f77b4" stroke-width="2.083"/>
<path d="M125.5 891V896M171.5 891V896M262.5 891V896M353.5 891V896M444.5 891V896M535.5 891V896M626.5 891V896M718.5 891V896M809.5 891V896M900.5 891V896M120 763.5H125M120 824.5H125M120 884.5H125" fill="none" stroke="#000" stroke-width="1.111"/>
<path d="M216.5 891V893.8M307.5 891V893.8M399.5 891V893.8M490.5 891V893.8M581.5 891V893.8M672.5 891V893.8M763.5 891V893.8M854.5 891V893.8" fill="none" stroke="#000" stroke-width="0.833"/>
<rect x="125.5" y="757.5" width="775" height="133" fill="none" stroke="#000" stroke-width="1.111"/>
<g font-size="13.889" text-anchor="middle">
<text x="170.59" y="911">2020</text>
<text x="261.76" y="911">2030</text>
<text x="352.94" y="911">2040</text>
<text x="444.12" y="911">2050</text>
<text x="535.29" y="911">2060</text>
<text x="626.47" y="911">2070</text>
<text x="717.65" y="911">2080</text>
<text x="808.82" y="911">2090</text>
</g>
<g font-size="13.889" text-anchor="end" letter-spacing="-0.3">
<text x="114.6" y="769.00">0.05</text>
<text x="114.6" y="830.00">0.00</text>
<text x="114.6" y="890.00">−0.05</text>
</g>
<text font-size="13.889" text-anchor="middle" transform="translate(64.26 825.92) rotate(-90)">numnan</text>
</g>
<text font-size="16.667" text-anchor="middle" letter-spacing="0.035" x="512.0" y="112">ua150m, lev=0, 20150101T0100 to 20991231T2300</text>
<text font-size="13.889" text-anchor="middle" letter-spacing="-0.1" x="511.9" y="930">validtime</text>
</svg>
</body></html>
